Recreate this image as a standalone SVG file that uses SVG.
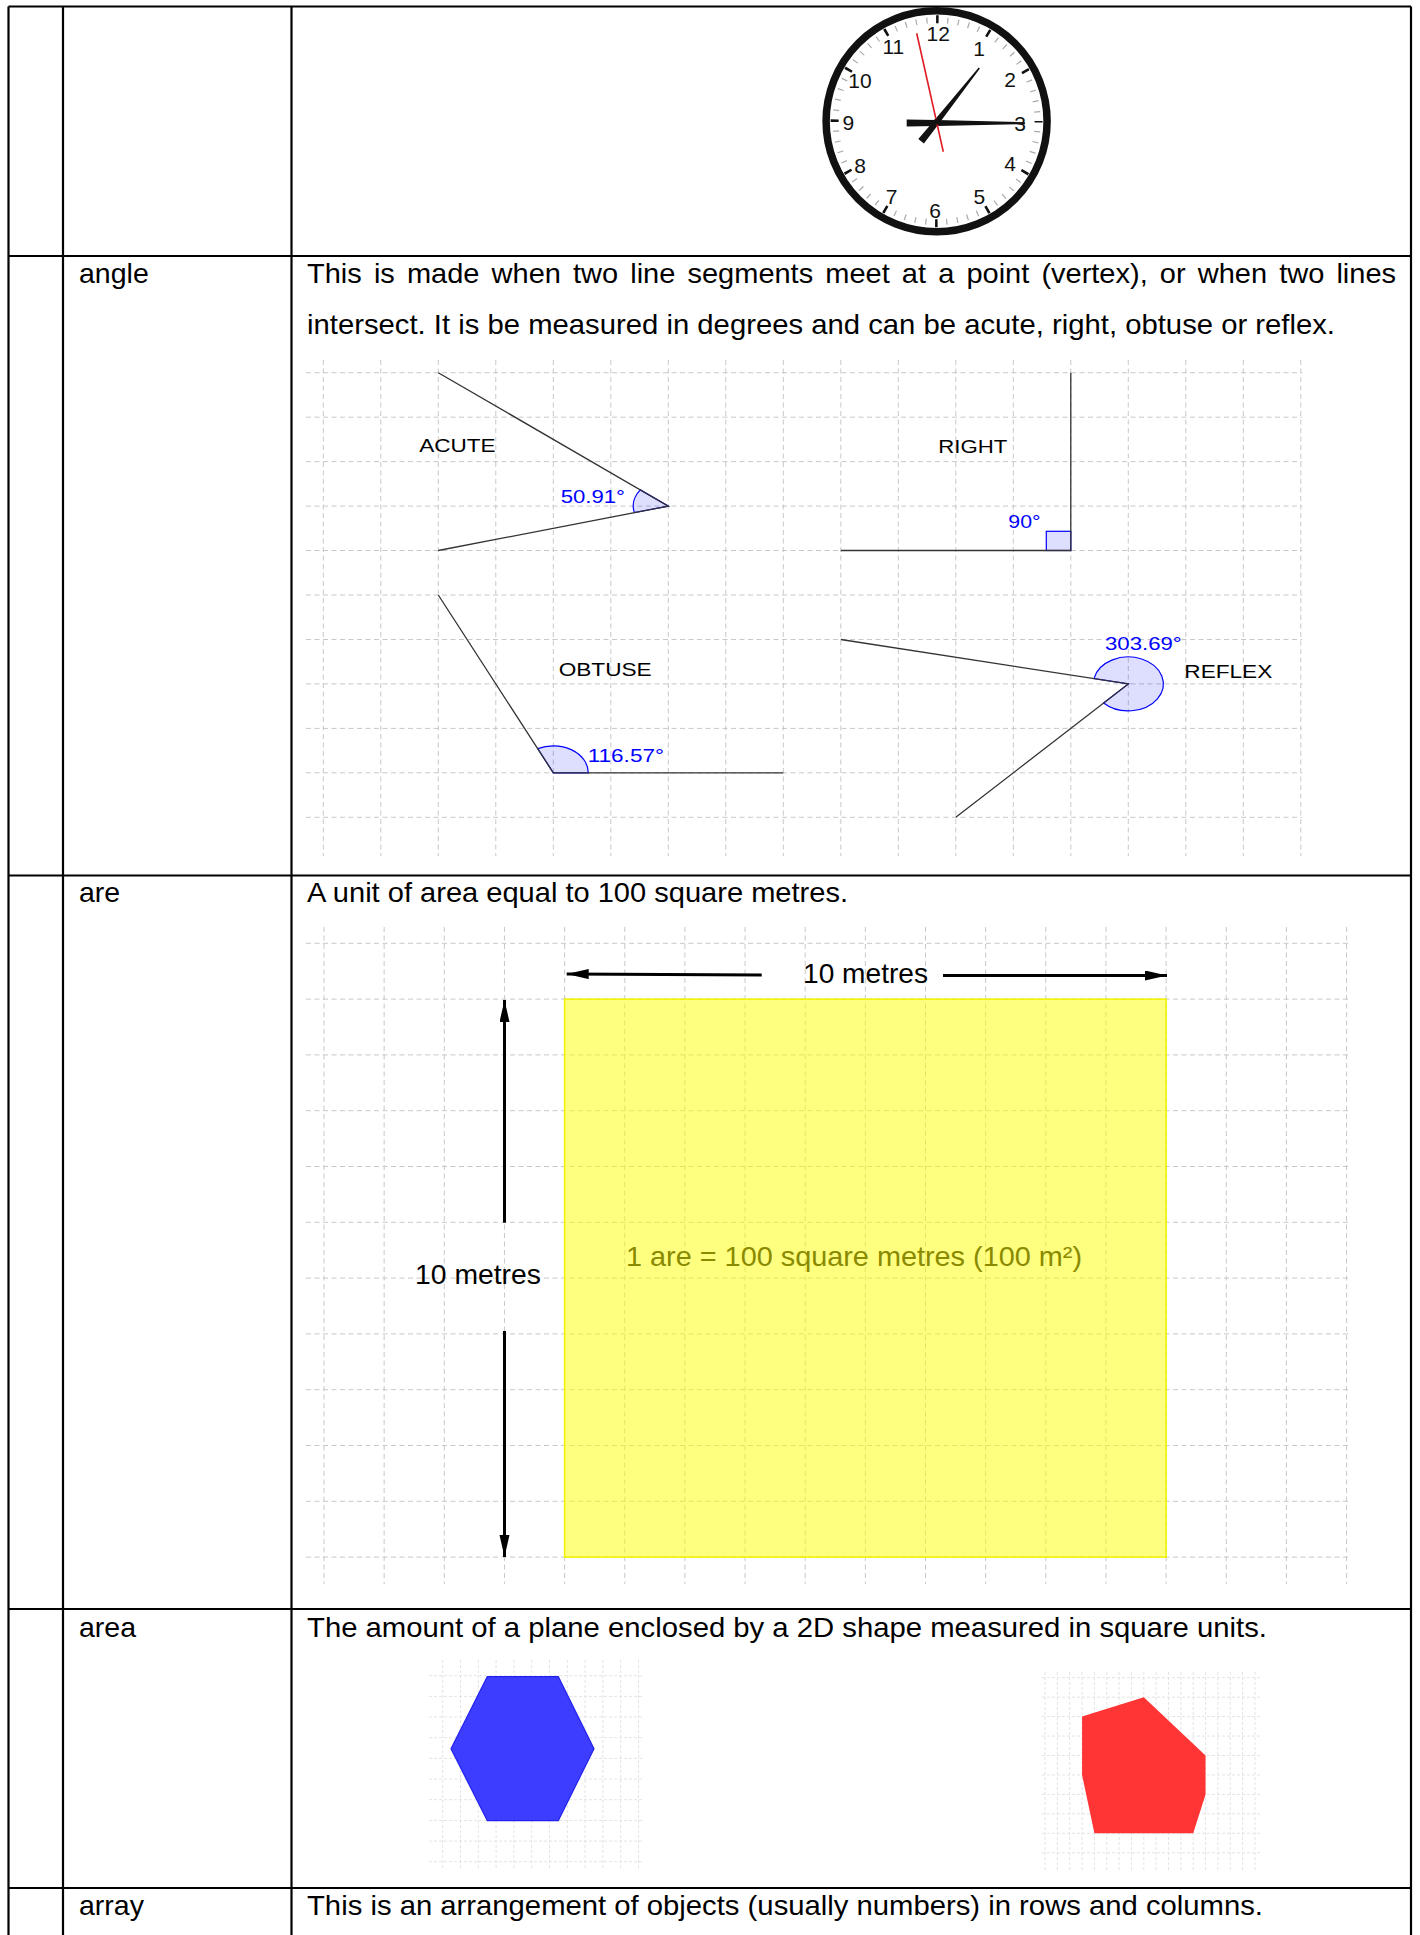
<svg xmlns="http://www.w3.org/2000/svg" width="1420" height="1935" viewBox="0 0 1420 1935">
<defs>
<style>
.tx{font-family:"Liberation Sans",Arial,sans-serif;font-size:28.5px;fill:#000}
.lbl{font-family:"Liberation Sans",Arial,sans-serif;font-size:18px;fill:#000}
.deg{font-family:"Liberation Sans",Arial,sans-serif;font-size:18px;fill:#0000ff}
.num{font-family:"Liberation Sans",Arial,sans-serif;font-size:21px;fill:#111;text-anchor:middle}
.tbl{stroke:#000;stroke-width:2.2;fill:none}
.grid{stroke:#c8c8c8;stroke-width:1;stroke-dasharray:5 3.5;fill:none}
.fgrid{stroke:#e4e4e4;stroke-width:1;stroke-dasharray:3 2;fill:none}
.seg{stroke:#333;stroke-width:1.3;fill:none}
.ang{fill:#0000ff;fill-opacity:0.13;stroke:#0000ff;stroke-width:1.2}
.arr{stroke:#000;stroke-width:3;fill:none}
</style>
<marker id="ah" markerUnits="userSpaceOnUse" markerWidth="24" markerHeight="12" refX="22" refY="5" orient="auto">
<path d="M0,0 L22,5 L0,10 Z" fill="#000"/>
</marker>
</defs>
<rect width="1420" height="1935" fill="#fff"/>

<g id="table">
<path class="tbl" d="M8.5,6.5H1411 M8.5,256H1411 M8.5,875.5H1411 M8.5,1609H1411 M8.5,1888H1411 M8.5,6.5V1935 M63,6.5V1935 M291.5,6.5V1935 M1411,6.5V1935"/>
</g>

<g id="clock">
<circle cx="936.6" cy="121.2" r="110.5" fill="#fff" stroke="#111" stroke-width="7.5"/>
<circle cx="936.6" cy="121.2" r="101" fill="none" stroke="#aaa" stroke-width="6" stroke-dasharray="1.2 9.377" stroke-dashoffset="0.6"/>
<circle cx="936.6" cy="121.2" r="102" fill="none" stroke="#111" stroke-width="8" stroke-dasharray="2.6 50.807" stroke-dashoffset="1.3"/>
<text class="num" x="938.3" y="40.8">12</text>
<text class="num" x="979" y="55.8">1</text>
<text class="num" x="1010" y="86.5">2</text>
<text class="num" x="1020" y="130.8">3</text>
<text class="num" x="1010" y="170.8">4</text>
<text class="num" x="979.3" y="204.2">5</text>
<text class="num" x="935" y="217.5">6</text>
<text class="num" x="891.7" y="204.2">7</text>
<text class="num" x="860" y="172.5">8</text>
<text class="num" x="848.3" y="130.2">9</text>
<text class="num" x="860" y="87.5">10</text>
<text class="num" x="893.3" y="54.2">11</text>
<polygon points="906.7,119.4 936.7,120 1025,122.2 1025,124.2 936.7,126 906.7,126.6" fill="#111"/>
<polygon points="979.9,68.4 978.7,67.6 935,119.6 918.3,138.9 923.9,143.6 938.9,123.8" fill="#111"/>
<line x1="916.7" y1="33.3" x2="943.3" y2="151.7" stroke="#e01b24" stroke-width="1.6"/>
<circle cx="936.7" cy="121.7" r="3" fill="#111"/>
</g>

<g id="row-angle">
<text class="tx" x="79" y="283">angle</text>
<text class="tx" x="307" y="283" word-spacing="4" textLength="1089" lengthAdjust="spacingAndGlyphs">This is made when two line segments meet at a point (vertex), or when two lines</text>
<text class="tx" x="307" y="333.5" textLength="1028" lengthAdjust="spacingAndGlyphs">intersect. It is be measured in degrees and can be acute, right, obtuse or reflex.</text>
</g>

<g id="angle-grid">
<path class="grid" d="M323.3,360V856 M380.8,360V856 M438.3,360V856 M495.8,360V856 M553.3,360V856 M610.8,360V856 M668.3,360V856 M725.8,360V856 M783.3,360V856 M840.8,360V856 M898.3,360V856 M955.8,360V856 M1013.3,360V856 M1070.8,360V856 M1128.3,360V856 M1185.8,360V856 M1243.3,360V856 M1300.8,360V856"/>
<path class="grid" d="M306,372.7H1302 M306,417.2H1302 M306,461.6H1302 M306,506.1H1302 M306,550.5H1302 M306,595H1302 M306,639.5H1302 M306,683.9H1302 M306,728.4H1302 M306,772.8H1302 M306,817.3H1302"/>
</g>

<g id="acute">
<path class="ang" d="M668.3,506.1 L640.32,489.87 A35,27 0 0 0 634.35,512.65 Z"/>
<path class="seg" d="M438.3,372.7 L668.3,506.1 L438.3,550.5"/>
<text class="lbl" x="419.3" y="451.7" textLength="76.3" lengthAdjust="spacingAndGlyphs">ACUTE</text>
<text class="deg" x="560.7" y="502.7" textLength="64.3" lengthAdjust="spacingAndGlyphs">50.91°</text>
</g>

<g id="right">
<rect class="ang" x="1046.3" y="531.3" width="24.5" height="19.2"/>
<path class="seg" d="M840.8,550.5 L1070.8,550.5 L1070.8,372.7"/>
<text class="lbl" x="938.3" y="453.3" textLength="69" lengthAdjust="spacingAndGlyphs">RIGHT</text>
<text class="deg" x="1008.3" y="527.7" textLength="32.3" lengthAdjust="spacingAndGlyphs">90°</text>
</g>

<g id="obtuse">
<path class="ang" d="M553.3,772.8 L588.3,772.8 A35,27 0 0 0 537.67,748.64 Z"/>
<path class="seg" d="M438.3,595 L553.3,772.8 L783.3,772.8"/>
<text class="lbl" x="558.7" y="675.7" textLength="93" lengthAdjust="spacingAndGlyphs">OBTUSE</text>
<text class="deg" x="587.7" y="761.7" textLength="76.3" lengthAdjust="spacingAndGlyphs">116.57°</text>
</g>

<g id="reflex">
<path class="ang" d="M1128.3,683.9 L1093.98,678.6 A35,27 0 1 1 1103.58,703.01 Z"/>
<path class="seg" d="M840.8,639.5 L1128.3,683.9 L955.8,817.3"/>
<text class="lbl" x="1184.3" y="678.3" textLength="88" lengthAdjust="spacingAndGlyphs">REFLEX</text>
<text class="deg" x="1105" y="650" textLength="76.7" lengthAdjust="spacingAndGlyphs">303.69°</text>
</g>

<g id="row-are">
<text class="tx" x="79" y="902">are</text>
<text class="tx" x="307" y="902" textLength="541" lengthAdjust="spacingAndGlyphs">A unit of area equal to 100 square metres.</text>
</g>

<g id="are-grid">
<path class="grid" d="M324,927V1584 M384.15,927V1584 M444.3,927V1584 M504.45,927V1584 M564.6,927V1584 M624.75,927V1584 M684.9,927V1584 M745.05,927V1584 M805.2,927V1584 M865.35,927V1584 M925.5,927V1584 M985.65,927V1584 M1045.8,927V1584 M1105.95,927V1584 M1166.1,927V1584 M1226.25,927V1584 M1286.4,927V1584 M1346.55,927V1584"/>
<path class="grid" d="M306,943.3H1348 M306,999.1H1348 M306,1054.9H1348 M306,1110.7H1348 M306,1166.5H1348 M306,1222.3H1348 M306,1278.1H1348 M306,1333.9H1348 M306,1389.7H1348 M306,1445.5H1348 M306,1501.3H1348 M306,1557.1H1348"/>
</g>

<g id="are-square">
<rect x="564.6" y="999.1" width="601.5" height="558" fill="#ffff00" fill-opacity="0.5" stroke="#f2f200" stroke-width="1.5"/>
<text x="626" y="1266" font-family="Liberation Sans, Arial, sans-serif" font-size="28" fill="#8a8a00" textLength="456" lengthAdjust="spacingAndGlyphs">1 are = 100 square metres (100 m²)</text>
</g>

<g id="dimension-labels">
<text class="tx" x="803" y="983" textLength="125" lengthAdjust="spacingAndGlyphs">10 metres</text>
<text class="tx" x="415" y="1284" textLength="126" lengthAdjust="spacingAndGlyphs">10 metres</text>
</g>

<g id="connectors">
<line class="arr" x1="761.7" y1="975" x2="566.7" y2="974" marker-end="url(#ah)"/>
<line class="arr" x1="943" y1="975.5" x2="1167" y2="975.5" marker-end="url(#ah)"/>
<line class="arr" x1="504.5" y1="1222.7" x2="504.5" y2="1000" marker-end="url(#ah)"/>
<line class="arr" x1="504.5" y1="1331" x2="504.5" y2="1557" marker-end="url(#ah)"/>
</g>

<g id="row-area">
<text class="tx" x="79" y="1636.5">area</text>
<text class="tx" x="307" y="1636.5" textLength="960" lengthAdjust="spacingAndGlyphs">The amount of a plane enclosed by a 2D shape measured in square units.</text>
</g>

<g id="hexagon">
<path class="fgrid" d="M442.7,1660V1870 M460.5,1660V1870 M478.3,1660V1870 M496.1,1660V1870 M513.9,1660V1870 M531.7,1660V1870 M549.5,1660V1870 M567.3,1660V1870 M585.1,1660V1870 M602.9,1660V1870 M620.7,1660V1870 M638.5,1660V1870 M429,1675.7H643 M429,1696.4H643 M429,1717H643 M429,1737.7H643 M429,1758.4H643 M429,1779.1H643 M429,1799.7H643 M429,1820.4H643 M429,1841.1H643 M429,1861.7H643"/>
<polygon points="487.3,1676.7 558.3,1676.7 594,1748.7 558.3,1820.7 487.3,1820.7 451,1748.7" fill="#3d3dff" stroke="#2222ee" stroke-width="1.2"/>
</g>

<g id="red-polygon">
<path class="fgrid" d="M1045,1672V1870 M1057.35,1672V1870 M1069.7,1672V1870 M1082.05,1672V1870 M1094.4,1672V1870 M1106.75,1672V1870 M1119.1,1672V1870 M1131.45,1672V1870 M1143.8,1672V1870 M1156.15,1672V1870 M1168.5,1672V1870 M1180.85,1672V1870 M1193.2,1672V1870 M1205.55,1672V1870 M1217.9,1672V1870 M1230.25,1672V1870 M1242.6,1672V1870 M1254.95,1672V1870 M1042,1677.7H1260 M1042,1697.15H1260 M1042,1716.6H1260 M1042,1736.05H1260 M1042,1755.5H1260 M1042,1774.95H1260 M1042,1794.4H1260 M1042,1813.85H1260 M1042,1833.3H1260 M1042,1852.75H1260"/>
<polygon points="1082.05,1716.6 1143.8,1697.15 1205.55,1755.5 1205.55,1794.4 1193.2,1833.3 1094.4,1833.3 1082.05,1774.95" fill="#ff3535"/>
</g>

<g id="row-array">
<text class="tx" x="79" y="1915">array</text>
<text class="tx" x="307" y="1915" textLength="956" lengthAdjust="spacingAndGlyphs">This is an arrangement of objects (usually numbers) in rows and columns.</text>
</g>
</svg>
